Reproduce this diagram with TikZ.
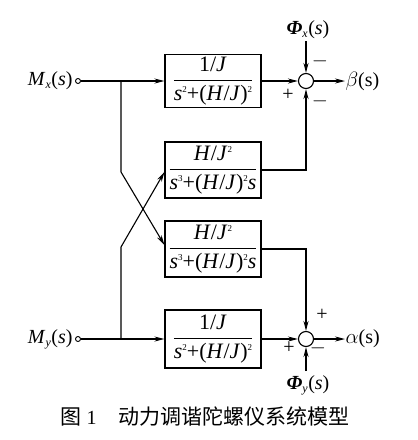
\documentclass[tikz,border=0pt]{standalone}
\usepackage{fontspec}
\setmainfont{Liberation Serif}
\newfontfamily\cjk{Noto Sans CJK SC}
\usetikzlibrary{arrows.meta}
\newcommand\I[1]{\textit{#1}}
\newcommand\su[1]{\raisebox{8pt}{\fontsize{9}{10}\selectfont #1}}
\newcommand\myidx[1]{$_{\mbox{\fontsize{12}{13}\selectfont\I{#1}}}$}
\newcommand\fr[2]{$\displaystyle\frac{\mbox{#1}}{\mbox{#2}}$}
\begin{document}
\begin{tikzpicture}[x=1pt,y=-1pt,
  font=\fontsize{20}{22}\selectfont,
  line width=1.1pt,
  >={Stealth[length=10pt,width=5pt]},
  blk/.style={draw,minimum width=96pt,inner sep=0pt,font=\fontsize{22}{24}\selectfont},
  sumc/.style={draw,circle,minimum size=15pt,inner sep=0pt},
  term/.style={draw,circle,minimum size=5pt,inner sep=0pt,line width=0.9pt},
  sgn/.style={font=\fontsize{20}{22}\selectfont,inner sep=0pt}]
\useasboundingbox (0,0) rectangle (418,440);
% blocks
\node[blk,minimum height=53pt] (b1) at (213,81) {\fr{1/\I{J}}{\I{s}\su{2}+(\I{H}/\I{J})\su{2}}};
\node[blk,minimum height=56pt] (b2) at (213,170) {\fr{\I{H}/\I{J}\su{2}}{\I{s}\su{3}+(\I{H}/\I{J})\su{2}\I{s}}};
\node[blk,minimum height=56pt] (b3) at (213,249) {\fr{\I{H}/\I{J}\su{2}}{\I{s}\su{3}+(\I{H}/\I{J})\su{2}\I{s}}};
\node[blk,minimum height=58pt] (b4) at (213,339) {\fr{1/\I{J}}{\I{s}\su{2}+(\I{H}/\I{J})\su{2}}};
% summing junctions
\node[sumc] (s1) at (306,81) {};
\node[sumc] (s2) at (306,339) {};
% inputs
\node[anchor=east,inner sep=0pt] (mx) at (73,81) {\I{M}\myidx{x}(\I{s})};
\node[anchor=east,inner sep=0pt] (my) at (73,339) {\I{M}\myidx{y}(\I{s})};
\node[term] (tx) at (78,81) {};
\node[term] (ty) at (78,339) {};
\coordinate (jx) at (121,81);
\coordinate (jx2) at (121,172);
\coordinate (jy) at (121,339);
\coordinate (jy2) at (121,247);
\coordinate (e3) at ([yshift=4pt]b3.west);
\coordinate (e2) at ([yshift=-2pt]b2.west);
% outputs
\node[inner sep=0pt,anchor=west] (beta) at (345,81) {$\beta$(s)};
\node[inner sep=0pt,anchor=west] (alpha) at (345,339) {$\alpha$(s)};
\node[inner sep=0pt] (phx) at (308,30) {\textbf{\I{Φ}}\myidx{x}(\I{s})};
\node[inner sep=0pt] (phy) at (308,385) {\textbf{\I{Φ}}\myidx{y}(\I{s})};
\coordinate (c2) at (306,170);
\coordinate (c3) at (306,249);
\coordinate (fx) at (306,41);
\coordinate (fy) at (306,371);
% connectors
\draw[->] (tx) -- (b1);
\draw[->] (ty) -- (b4);
\draw[->] (jx) -- (jx2) -- (e3);
\draw[->] (jy) -- (jy2) -- (e2);
\draw[->] (b1) -- (s1);
\draw[->] (b4) -- (s2);
\draw[->] (b2) -- (c2) -- (s1);
\draw[->] (b3) -- (c3) -- (s2);
\draw[->] (s1) -- (beta);
\draw[->] (s2) -- (alpha);
\draw[->] (fx) -- (s1);
\draw[->] (fy) -- (s2);
% signs
\node[sgn] (p1) at (288,95) {+};
\node[sgn] (m1) at (320,61) {$-$};
\node[sgn] (m2) at (320,101) {$-$};
\node[sgn] (p2) at (322,315) {+};
\node[sgn] (p3) at (289,348) {+};
\node[sgn] (m3) at (318,348) {$-$};
% caption
\node[inner sep=0pt,anchor=west] (cap1) at (60,417) {{\cjk\fontsize{21}{23}\selectfont 图} 1};
\node[inner sep=0pt,anchor=west] (cap2) at (118,417) {\cjk\fontsize{21}{23}\selectfont 动力调谐陀螺仪系统模型};
\end{tikzpicture}
\end{document}
